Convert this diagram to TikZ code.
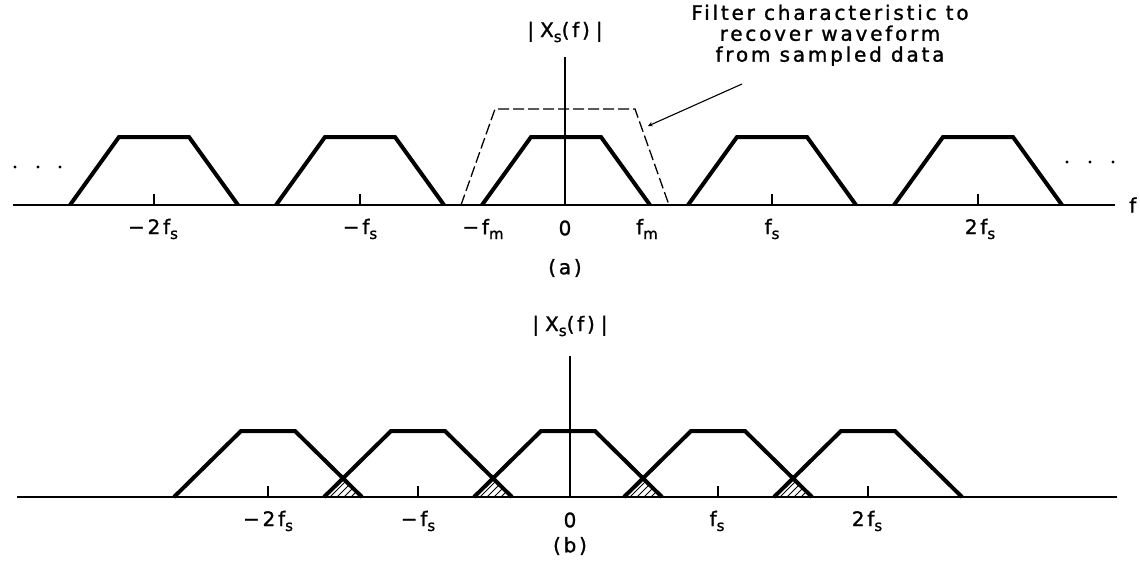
\documentclass[tikz,border=0pt]{standalone}
\usepackage{fontspec}
\setmainfont{DejaVu Sans}[LetterSpace=14,FakeBold=1.2]
\newcommand{\ssub}[1]{\raisebox{-0.45ex}{\fontsize{15}{15}\selectfont #1}}
\begin{document}
\begin{tikzpicture}[x=1pt,y=-1pt,
  trap/.style={line width=4pt,line join=miter,line cap=butt},
  baseline axis/.style={line width=1.6pt},
  vaxis/.style={line width=2pt},
  tickmark/.style={line width=1.6pt},
  filt/.style={line width=1.3pt,dash pattern=on 11pt off 4pt},
  lbl/.style={font=\fontsize{20}{19}\selectfont,inner sep=0pt},
  dotmark/.style={circle,fill=black,inner sep=0pt,minimum size=3.2pt},
  hatch/.style={line width=1pt}]
\useasboundingbox (0,0) rectangle (1140,563);
\fill[white] (0,0) rectangle (1140,563);

% ---------- (a) ----------
\draw[baseline axis] (13,205) -- (1115,205);
\foreach \k in {-2,-1,0,1,2}{
  \pgfmathsetmacro{\c}{566+206*\k}
  \draw[trap] (\c-84,205) -- (\c-35,137) -- (\c+35,137) -- (\c+84,205);
}
\foreach \k in {-2,-1,1,2}{
  \pgfmathsetmacro{\c}{566+206*\k}
  \draw[tickmark] (\c,205) -- (\c,194);
}
\draw[filt] (461,205) -- (495,109) -- (635,109) -- (669,205);
\draw[vaxis] (565,205) -- (565,57);
\node[lbl] (xa) at (565,32) {|\hspace{6pt}X\ssub{s}(f)\hspace{6pt}|};
\node[lbl] (ann) at (830,36) {\begin{tabular}{@{}c@{}}Filter characteristic to\\ recover waveform\\ from sampled data\end{tabular}};
\coordinate (arrs) at (742,84);
\coordinate (arrt) at (648,126);
\draw[line width=1.1pt,-stealth] (arrs) -- (arrt);

\node[lbl] (am2) at (153,229) {−2f\ssub{s}};
\node[lbl] (am1) at (360,229) {−f\ssub{s}};
\node[lbl] (amfm) at (483,229) {−f\ssub{m}};
\node[lbl] (a0) at (565,228) {0};
\node[lbl] (afm) at (647,229) {f\ssub{m}};
\node[lbl] (ap1) at (772,229) {f\ssub{s}};
\node[lbl] (ap2) at (980,229) {2f\ssub{s}};
\node[lbl,anchor=west] (af) at (1129,205) {f};
\node[lbl] (acap) at (565,268) {(a)};

\node[dotmark] (dl1) at (15,167) {};
\node[dotmark] (dl2) at (38,167) {};
\node[dotmark] (dl3) at (60,167) {};
\node[dotmark] (dr1) at (1067,162) {};
\node[dotmark] (dr2) at (1090,162) {};
\node[dotmark] (dr3) at (1113,162) {};

% ---------- (b) ----------
\draw[baseline axis] (17,497) -- (1117,497);
\foreach \k in {-2,-1,0,1} {
  \pgfmathsetmacro{\m}{568+150*\k+75}
  \begin{scope}
    \clip (\m-19,497) -- (\m,478) -- (\m+19,497) -- cycle;
    \foreach \d in {-24,-17,...,30}{
      \draw[hatch] (\m+\d-20,500) -- (\m+\d+5,475);
    }
  \end{scope}
}
\foreach \k in {-2,-1,0,1,2}{
  \pgfmathsetmacro{\c}{568+150*\k}
  \draw[trap] (\c-94,497) -- (\c-27,431) -- (\c+27,431) -- (\c+94,497);
}
\foreach \k in {-2,-1,1,2}{
  \pgfmathsetmacro{\c}{568+150*\k}
  \draw[tickmark] (\c,497) -- (\c,486);
}
\draw[vaxis] (570,497) -- (570,356);
\node[lbl] (xb) at (570,326) {|\hspace{6pt}X\ssub{s}(f)\hspace{6pt}|};
\node[lbl] (bm2) at (268,521) {−2f\ssub{s}};
\node[lbl] (bm1) at (418,521) {−f\ssub{s}};
\node[lbl] (b0) at (570,520) {0};
\node[lbl] (bp1) at (717,521) {f\ssub{s}};
\node[lbl] (bp2) at (867,521) {2f\ssub{s}};
\node[lbl] (bcap) at (570,546) {(b)};
\end{tikzpicture}
\end{document}
